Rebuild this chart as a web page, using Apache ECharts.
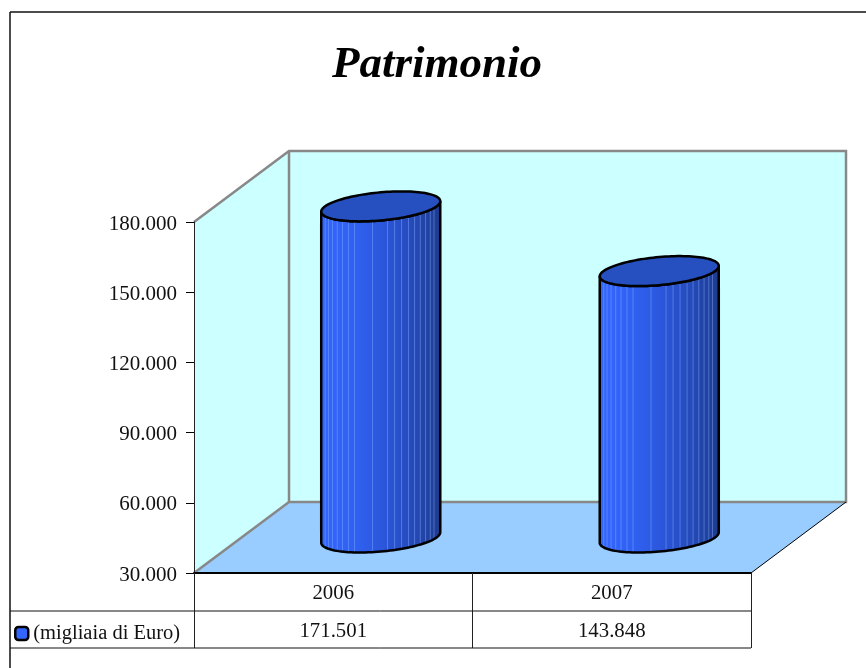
<!DOCTYPE html>
<html>
<head>
<meta charset="utf-8">
<style>html,body{margin:0;padding:0;background:#fff}#c{width:866px;height:668px}</style>
<script src="https://cdn.jsdelivr.net/npm/echarts@6/dist/echarts.min.js"></script>
</head>
<body>
<div id="c"></div>
<script>
const titleText = 'Patrimonio';
const categories = ['2006', '2007'];
const tableValues = ['171.501', '143.848'];
const seriesName = '(migliaia di Euro)';
const values = [171501, 143848];
const yMin = 30000, yMax = 180000, yStep = 30000;

const FONT = '"Liberation Serif","Times New Roman",serif';
const DEPTH_X = 95, DEPTH_Y = -71;
const TILT = -5.3 * Math.PI / 180, RY = 14;
const STRIPES = [4, 7.3, 11.3, 16, 21.3, 27.3, 33.3, 51.3, 66.3, 73.3, 80.3, 87.3, 93.3, 99, 104.3, 109, 112.7];

function renderWalls(params) {
  const c = params.coordSys;
  const x0 = c.x, x1 = c.x + c.width, y0 = c.y, y1 = c.y + c.height;
  const dx = DEPTH_X, dy = DEPTH_Y;
  const gray = { stroke: '#888888', lineWidth: 2.5 };
  const line = (a, b, style) => ({ type: 'line', shape: { x1: a[0], y1: a[1], x2: b[0], y2: b[1] }, style });
  return {
    type: 'group',
    silent: true,
    children: [
      { type: 'polygon', shape: { points: [[x0 + dx, y0 + dy], [x1 + dx, y0 + dy], [x1 + dx, y1 + dy], [x0 + dx, y1 + dy]] }, style: { fill: '#ccffff' } },
      { type: 'polygon', shape: { points: [[x0, y0], [x0 + dx, y0 + dy], [x0 + dx, y1 + dy], [x0, y1]] }, style: { fill: '#ccffff' } },
      { type: 'polygon', shape: { points: [[x0, y1], [x1, y1], [x1 + dx, y1 + dy], [x0 + dx, y1 + dy]] }, style: { fill: '#99ccff' } },
      { type: 'polyline', shape: { points: [[x0, y0], [x0 + dx, y0 + dy], [x1 + dx, y0 + dy], [x1 + dx, y1 + dy], [x0 + dx, y1 + dy], [x0, y1]] }, style: Object.assign({ fill: 'none' }, gray) },
      line([x0 + dx, y0 + dy], [x0 + dx, y1 + dy], gray),
      line([x1, y1], [x1 + dx, y1 + dy], { stroke: '#000', lineWidth: 1 })
    ]
  };
}

function renderCylinder(params, api) {
  const idx = api.value(0), val = api.value(1);
  const top = api.coord([idx, val]);
  const base = api.coord([idx, yMin]);
  const band = api.size([1, 0])[0];
  const rx = band * 0.2146;
  const cx = top[0] + DEPTH_X / 2;
  const cyTop = top[1] + DEPTH_Y / 2;
  const cyBot = base[1] + DEPTH_Y / 2;
  const cosT = Math.cos(TILT), sinT = Math.sin(TILT);
  const pt = (t, cy) => [cx + rx * Math.cos(t) * cosT - RY * Math.sin(t) * sinT,
                         cy + rx * Math.cos(t) * sinT + RY * Math.sin(t) * cosT];
  const t0 = Math.atan2(-RY * sinT, rx * cosT);
  const N = 60;
  const front = cy => { const a = []; for (let i = 0; i <= N; i++) a.push(pt(t0 + Math.PI * i / N, cy)); return a; };
  const frontTop = front(cyTop);
  const frontBot = front(cyBot).reverse();
  const body = frontTop.concat(frontBot);
  const ring = []; for (let i = 0; i < N * 2; i++) ring.push(pt(t0 + Math.PI * i / N, cyTop));
  const left = frontTop[N][0], width = frontTop[0][0] - left;
  const yAtX = (arr, x) => { let b = arr[0]; arr.forEach(p => { if (Math.abs(p[0] - x) < Math.abs(b[0] - x)) b = p; }); return b[1]; };
  const scale = width / 119;
  const stripes = STRIPES.map(k => {
    const x = left + k * scale;
    return { type: 'line', shape: { x1: x, y1: yAtX(frontTop, x), x2: x, y2: yAtX(frontBot, x) },
             style: { stroke: 'rgba(135,175,255,0.45)', lineWidth: 1 } };
  });
  return {
    type: 'group',
    children: [
      { type: 'polygon', shape: { points: body }, style: {
          fill: new echarts.graphic.LinearGradient(0, 0, 1, 0, [
            { offset: 0, color: '#3366ff' }, { offset: 0.3, color: '#2f60f0' },
            { offset: 0.55, color: '#2a55d8' }, { offset: 0.8, color: '#2448b4' }, { offset: 1, color: '#1d3b8c' }]) } }
    ].concat(stripes, [
      { type: 'polygon', shape: { points: body }, style: { fill: 'none', stroke: '#000', lineWidth: 2.5 } },
      { type: 'polygon', shape: { points: ring }, style: { fill: '#264fbf', stroke: '#000', lineWidth: 2.5 } }
    ])
  };
}

const fmt = v => '{t|' + String(v).replace(/\B(?=(\d{3})+$)/g, '.') + '}';
const hline = (x1, x2, y, w) => ({ type: 'line', z: 10, silent: true, shape: { x1, y1: y, x2, y2: y }, style: { stroke: '#111', lineWidth: w || 1 } });

const chart = echarts.init(document.getElementById('c'), null, { renderer: 'canvas' });
chart.setOption({
  animation: false,
  backgroundColor: '#fff',
  title: { text: titleText, left: 432, top: 38, textAlign: 'center',
    textStyle: { fontFamily: FONT, fontSize: 45, fontStyle: 'italic', fontWeight: 'bold', color: '#000' } },
  legend: { show: true, left: 14, top: 623, itemWidth: 13, itemHeight: 13, itemGap: 0, padding: 0,
    icon: 'roundRect', data: [seriesName], selectedMode: false,
    itemStyle: { color: '#3366ff', borderColor: '#000', borderWidth: 2.5 },
    textStyle: { fontFamily: FONT, fontSize: 20.5, color: '#111', padding: [0, 0, 0, 0] } },
  grid: { left: 194, top: 222, width: 557, height: 351 },
  xAxis: [
    { type: 'category', data: categories, position: 'bottom', z: 5,
      axisLine: { lineStyle: { color: '#000', width: 2 } },
      axisTick: { show: true, alignWithLabel: false, length: 75, lineStyle: { color: '#222', width: 1 } },
      axisLabel: { fontFamily: FONT, fontSize: 20.8, color: '#111', margin: 10 } },
    { type: 'category', data: tableValues, position: 'bottom', offset: 38, z: 5,
      axisLine: { show: false }, axisTick: { show: false },
      axisLabel: { fontFamily: FONT, fontSize: 20.8, color: '#111', margin: 10 } }
  ],
  yAxis: { type: 'value', min: yMin, max: yMax, interval: yStep, z: 5,
    splitLine: { show: false },
    axisLine: { show: true, lineStyle: { color: '#222', width: 1 } },
    axisTick: { show: true, inside: false, length: 8, lineStyle: { color: '#000', width: 1 } },
    axisLabel: { margin: 17, formatter: fmt,
      rich: { t: { fontFamily: FONT, fontSize: 21, color: '#111', padding: [4, 0, 0, 0] } } } },
  series: [
    { type: 'custom', z: 1, silent: true, renderItem: renderWalls, data: [[0, yMin]], clip: false,
      encode: { x: 0, y: 1 }, tooltip: { show: false } },
    { type: 'custom', name: seriesName, z: 3, renderItem: renderCylinder, clip: false,
      itemStyle: { color: '#3366ff' }, encode: { x: 0, y: 1 },
      data: categories.map((c, i) => [i, values[i]]) }
  ],
  graphic: [
    hline(10, 866, 12, 1.5),
    { type: 'line', z: 10, silent: true, shape: { x1: 10, y1: 12, x2: 10, y2: 668 }, style: { stroke: '#111', lineWidth: 1.5 } },
    hline(10, 751, 611, 1),
    hline(10, 751, 648, 1)
  ]
});
</script>
</body>
</html>
